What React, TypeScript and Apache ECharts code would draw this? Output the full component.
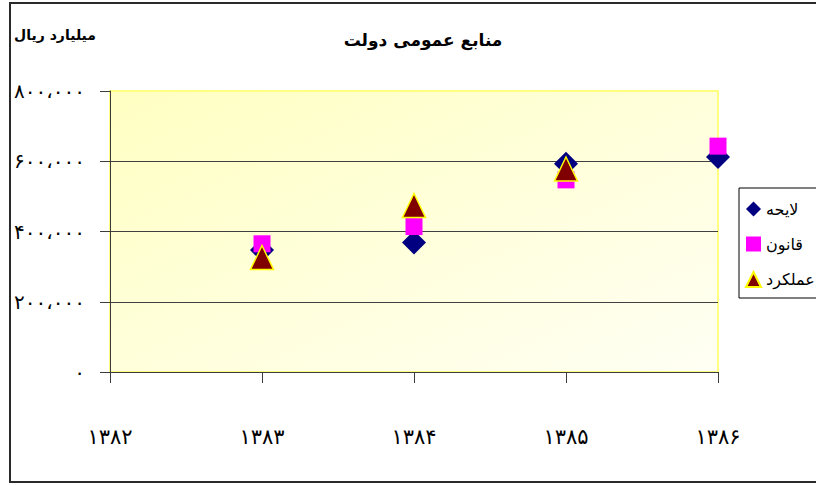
import React, { useEffect, useRef } from "react";
import * as echarts from "echarts";

const years = ["1382", "1383", "1384", "1385", "1386"];
const seriesNames = ["لایحه", "قانون", "عملکرد"];
const layehe = [null, 347000, 369000, 593000, 612000];
const ghanoon = [null, 365000, 414000, 547000, 643000];
const amalkard = [null, 326000, 474000, 578000, null];
const yTicks = [0, 200000, 400000, 600000, 800000];
const title = "منابع عمومی دولت";
const unitLabel = "میلیارد ریال";

const FA = "۰۱۲۳۴۵۶۷۸۹";
const toFa = (s: string) => s.replace(/\d/g, (d) => FA[+d]);
const fmtY = (v: number) => toFa(Math.round(v).toLocaleString("en-US")).replace(/,/g, "،");

const FONT = "DejaVu Sans";

export default function App() {
  const ref = useRef<HTMLDivElement>(null);
  useEffect(() => {
    if (!ref.current) return;
    const chart = echarts.init(ref.current, null, { renderer: "svg" });
    chart.setOption({
      animation: false,
      backgroundColor: "#ffffff",
      title: {
        text: title,
        left: 418,
        textAlign: "center",
        top: 26,
        textStyle: { fontFamily: FONT, fontSize: 17, fontWeight: "bold", color: "#000" },
      },
      graphic: [
        {
          type: "rect",
          shape: { x: 10, y: 3, width: 840, height: 479 },
          style: { fill: "none", stroke: "#2a2a2a", lineWidth: 2 },
          silent: true,
        },
        {
          type: "text",
          x: 96,
          y: 35,
          style: {
            text: unitLabel,
            fontFamily: FONT,
            fontSize: 14,
            fontWeight: "bold",
            fill: "#000",
            align: "right",
            verticalAlign: "middle",
          },
        },
      ],
      legend: {
        orient: "vertical",
        left: 739,
        top: 188,
        padding: [13, 40, 10, 6],
        itemWidth: 15,
        itemHeight: 15,
        itemGap: 19,
        borderColor: "#000",
        borderWidth: 1,
        backgroundColor: "#fff",
        textStyle: { fontFamily: FONT, fontSize: 16, color: "#000" },
        data: seriesNames,
      },
      grid: {
        left: 110,
        right: 98,
        top: 91,
        bottom: 113,
        show: true,
        backgroundColor: new echarts.graphic.LinearGradient(0, 0, 1, 1, [
          { offset: 0, color: "#FFFFC2" },
          { offset: 1, color: "#FFFFF4" },
        ]),
        borderColor: "#FFFF80",
        borderWidth: 2,
      },
      xAxis: {
        type: "category",
        data: years,
        boundaryGap: false,
        axisLine: { show: true, lineStyle: { color: "#3c3c3c", width: 1 } },
        axisTick: { show: true, inside: false, length: 11, alignWithLabel: true, lineStyle: { color: "#3c3c3c" } },
        axisLabel: {
          margin: 54,
          formatter: (v: string) => toFa(v),
          fontFamily: FONT,
          fontSize: 21,
          color: "#000",
        },
        splitLine: { show: false },
      },
      yAxis: {
        type: "value",
        min: yTicks[0],
        max: yTicks[yTicks.length - 1],
        interval: yTicks[1] - yTicks[0],
        axisLine: { show: true, lineStyle: { color: "#3c3c3c", width: 1 } },
        axisTick: { show: true, inside: false, length: 10, lineStyle: { color: "#3c3c3c" } },
        axisLabel: {
          margin: 25,
          formatter: (v: number) => fmtY(v),
          fontFamily: FONT,
          fontSize: 20,
          color: "#000",
        },
        splitLine: {
          show: true,
          lineStyle: {
            color: ["#404040", "#404040", "#404040", "#404040", "rgba(0,0,0,0)"],
            width: 1,
          },
        },
      },
      series: [
        {
          name: seriesNames[0],
          type: "scatter",
          data: layehe,
          symbol: "diamond",
          symbolSize: 24,
          itemStyle: { color: "#000080", opacity: 1 },
          z: 2,
        },
        {
          name: seriesNames[1],
          type: "scatter",
          data: ghanoon,
          symbol: "rect",
          symbolSize: 17,
          itemStyle: { color: "#FF00FF", opacity: 1 },
          z: 3,
        },
        {
          name: seriesNames[2],
          type: "scatter",
          data: amalkard,
          symbol: "triangle",
          symbolSize: [23, 24],
          itemStyle: { color: "#800000", borderColor: "#FFFF00", borderWidth: 1.5, opacity: 1 },
          z: 4,
        },
      ],
    });
    return () => chart.dispose();
  }, []);
  return (
    <div
      ref={ref}
      style={{ position: "fixed", left: 0, top: 0, width: 816, height: 485 }}
    />
  );
}
